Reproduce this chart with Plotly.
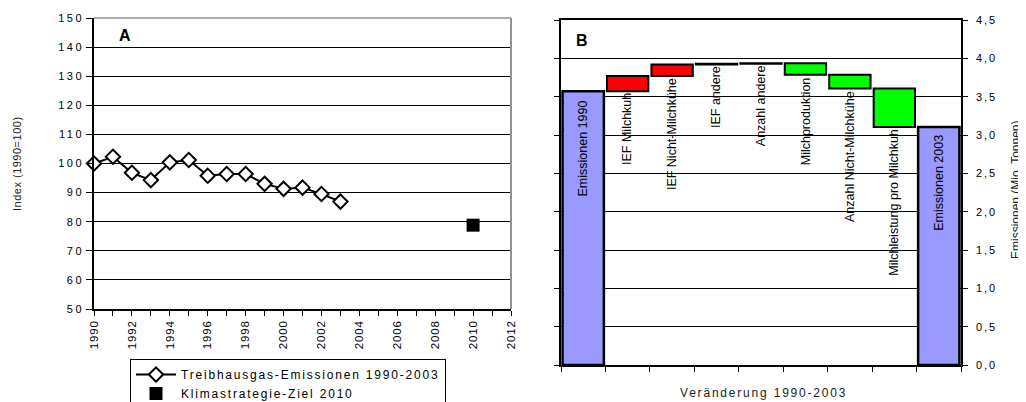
import plotly.graph_objects as go

# ---------------- data ----------------
years = list(range(1990, 2004))
index_values = [100, 102.3, 96.8, 94.3, 100.4, 101.2, 95.8, 96.4, 96.4, 93.0, 91.3, 91.7, 89.5, 86.9]
target_year = [2010]
target_value = [78.8]

year_ticks = list(range(1990, 2013, 2))
index_ticks = list(range(50, 151, 10))

categories = ["Emissionen 1990", "IEF Milchkuh", "IEF Nicht-Milchkühe", "IEF andere",
              "Anzahl andere", "Milchproduktion", "Anzahl Nicht-Milchkühe",
              "Milchleistung pro Milchkuh", "Emissionen 2003"]
changes = [3.57, 0.20, 0.15, 0.01, 0.005, -0.15, -0.18, -0.50, 0]
measures = ["absolute"] + ["relative"] * 7 + ["total"]
emission_ticks = [0.0, 0.5, 1.0, 1.5, 2.0, 2.5, 3.0, 3.5, 4.0, 4.5]

FONT = "Liberation Sans, Arial, sans-serif"
# page body has an 8px margin -> figure occupies the rest of the 1026x402 window
OFF = 8
FW, FH = 1026 - OFF, 402 - OFF


def fx(px):
    return (px - OFF) / FW


def fy(py):
    return 1 - (py - OFF) / FH


def spaced(text, sp):
    return f'<span style="letter-spacing:{sp}px">{text}</span>'


fig = go.Figure()

# ---------------- chart A ----------------
fig.add_trace(go.Scatter(
    x=years, y=index_values, mode="lines+markers",
    name=spaced("Treibhausgas-Emissionen 1990-2003", 1.8),
    line=dict(color="black", width=2),
    marker=dict(symbol="diamond", size=11, color="white", line=dict(color="black", width=2)),
    cliponaxis=False, xaxis="x", yaxis="y"))
fig.add_trace(go.Scatter(
    x=target_year, y=target_value, mode="markers",
    name=spaced("Klimastrategie-Ziel 2010", 1.8),
    marker=dict(symbol="square", size=13, color="black"),
    cliponaxis=False, xaxis="x", yaxis="y"))

# ---------------- chart B ----------------
fig.add_trace(go.Waterfall(
    x=categories, y=changes, measure=measures,
    increasing=dict(marker=dict(color="#FF0000", line=dict(color="black", width=2))),
    decreasing=dict(marker=dict(color="#00FF00", line=dict(color="black", width=2))),
    totals=dict(marker=dict(color="#9999FF", line=dict(color="black", width=2.5))),
    connector=dict(visible=False), showlegend=False, xaxis="x2", yaxis="y2"))

label_font = dict(family=FONT, size=12.5, color="black")
annotations = []
running = 0.0
for cat, val, meas in zip(categories, changes, measures):
    if meas == "absolute":
        running = val
        annotations.append(dict(x=cat, y=running, xref="x2", yref="y2", yanchor="top",
                                yshift=-7, text=cat, textangle=-90, showarrow=False,
                                font=label_font))
    elif meas == "total":
        annotations.append(dict(x=cat, y=running, xref="x2", yref="y2", yanchor="top",
                                yshift=-6, text=cat, textangle=-90, showarrow=False,
                                font=label_font))
    else:
        start = running
        running = running + val
        annotations.append(dict(x=cat, y=min(start, running), xref="x2", yref="y2",
                                yanchor="top", yshift=0, text=cat, textangle=-90,
                                showarrow=False, font=label_font))

annotations += [
    dict(x=fx(125), y=fy(35), xref="paper", yref="paper", text="<b>A</b>",
         xanchor="center", yanchor="middle", showarrow=False,
         font=dict(family=FONT, size=16, color="black")),
    dict(x=fx(582), y=fy(40), xref="paper", yref="paper", text="<b>B</b>",
         xanchor="center", yanchor="middle", showarrow=False,
         font=dict(family=FONT, size=16, color="black")),
    dict(x=fx(17), y=fy(164), xref="paper", yref="paper", text=spaced("Index (1990=100)", 0.5),
         xanchor="center", yanchor="middle", textangle=-90, showarrow=False,
         font=dict(family=FONT, size=11, color="#222")),
    dict(x=fx(1016), y=fy(190), xref="paper", yref="paper", text="Emissionen (Mio. Tonnen)",
         xanchor="center", yanchor="middle", textangle=-90, showarrow=False,
         font=dict(family=FONT, size=12, color="#222")),
    dict(x=fx(763), y=fy(393), xref="paper", yref="paper",
         text=spaced("Veränderung 1990-2003", 1.8),
         xanchor="center", yanchor="middle", showarrow=False,
         font=dict(family=FONT, size=12, color="#222")),
]

fig.update_layout(
    width=FW, height=FH,
    margin=dict(l=0, r=0, t=0, b=0, autoexpand=False),
    paper_bgcolor="white", plot_bgcolor="white",
    separators=",.",
    font=dict(family=FONT, size=11, color="black"),
    waterfallgap=0.07,
    xaxis=dict(domain=[fx(94), fx(511)], anchor="y", range=[1990, 2012],
               tickvals=year_ticks, ticktext=[spaced(str(v), 0.8) for v in year_ticks],
               tickangle=-90, ticks="outside", ticklen=5,
               tickcolor="black", tickwidth=1, showline=True, linecolor="black", linewidth=1.5,
               showgrid=False, zeroline=False,
               tickfont=dict(family=FONT, size=11.5, color="black"),
               minor=dict(dtick=1, ticks="outside", ticklen=5, tickcolor="black", showgrid=False)),
    yaxis=dict(domain=[fy(309), fy(18)], anchor="x", range=[50, 150],
               tickvals=index_ticks, ticktext=[spaced(str(v), 2.5) for v in index_ticks],
               ticks="outside", ticklen=6, tickcolor="black", showline=True,
               linecolor="black", linewidth=1.5, showgrid=True, gridcolor="black",
               gridwidth=1, zeroline=False,
               tickfont=dict(family=FONT, size=11, color="black")),
    xaxis2=dict(domain=[fx(561), fx(961)], anchor="y2", type="category",
                range=[-0.5, 8.5], showticklabels=False, ticks="outside", ticklen=5,
                tickson="boundaries", tickcolor="black", showline=True, mirror=True,
                linecolor="black", linewidth=1.5, showgrid=False, zeroline=False),
    yaxis2=dict(domain=[fy(365), fy(20)], anchor="x2", side="right",
                range=[0, 4.5], tickvals=emission_ticks,
                ticktext=[spaced(f"{v:.1f}".replace(".", ","), 2) for v in emission_ticks],
                ticks="outside", ticklen=5,
                tickcolor="black", showline=True, mirror="ticks", linecolor="black",
                linewidth=1.5, showgrid=True, gridcolor="black", gridwidth=1,
                zeroline=False, tickfont=dict(family=FONT, size=11, color="black"),
                ticklabelstandoff=6),
    legend=dict(x=fx(130), y=fy(359), xanchor="left", yanchor="top",
                bordercolor="black", borderwidth=1, bgcolor="white",
                font=dict(family=FONT, size=12, color="black"),
                tracegroupgap=0, itemwidth=40),
    annotations=annotations,
    shapes=[
        dict(type="line", xref="paper", yref="paper", x0=fx(94), x1=fx(511),
             y0=fy(18), y1=fy(18), line=dict(color="#909090", width=1.5), layer="above"),
        dict(type="line", xref="paper", yref="paper", x0=fx(511), x1=fx(511),
             y0=fy(18), y1=fy(309), line=dict(color="#909090", width=2), layer="above"),
    ],
)

fig.write_html("out.html")
